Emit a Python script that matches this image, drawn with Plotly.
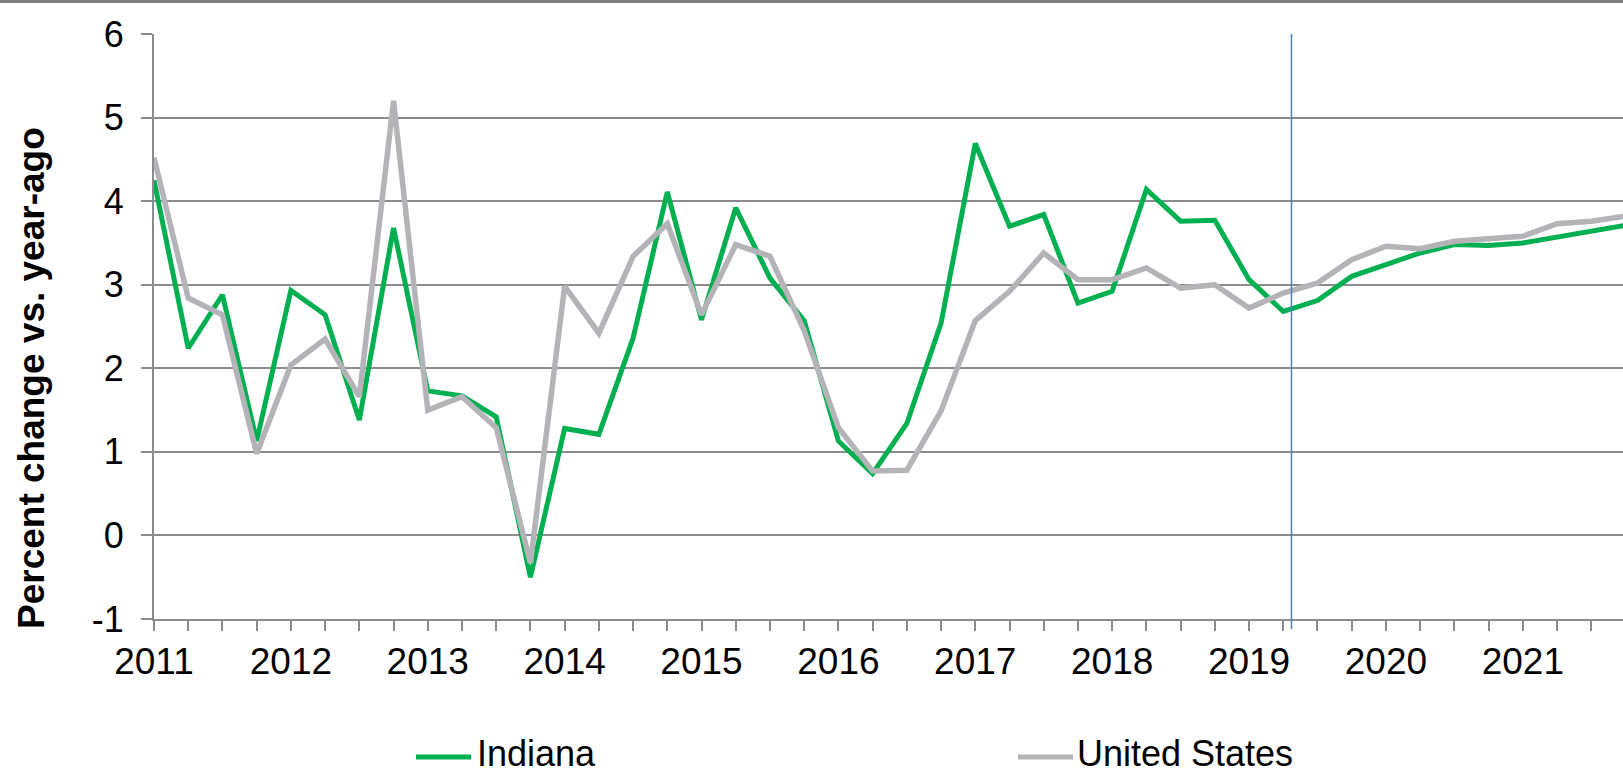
import plotly.graph_objects as go

years = ["2011", "2012", "2013", "2014", "2015", "2016", "2017", "2018", "2019", "2020", "2021"]
quarters = list(range(44))  # 2011Q1 .. 2021Q4
y_ticks = [-1, 0, 1, 2, 3, 4, 5, 6]
y_tick_text = ["-1", "0", "1", "2", "3", "4", "5", "6"]

indiana = [4.25, 2.24, 2.88, 1.13, 2.93, 2.64, 1.38, 3.68, 1.73, 1.67, 1.42, -0.5,
           1.28, 1.21, 2.36, 4.11, 2.58, 3.92, 3.08, 2.57, 1.13, 0.74, 1.34, 2.54,
           4.69, 3.70, 3.84, 2.78, 2.92, 4.14, 3.76, 3.77, 3.06, 2.68, 2.81, 3.10,
           3.24, 3.38, 3.48, 3.47, 3.50, 3.57, 3.64, 3.71]
united_states = [4.52, 2.84, 2.64, 0.98, 2.04, 2.35, 1.66, 5.20, 1.50, 1.66, 1.29, -0.33,
                 2.98, 2.42, 3.34, 3.73, 2.64, 3.48, 3.34, 2.45, 1.29, 0.77, 0.78, 1.49,
                 2.57, 2.92, 3.38, 3.06, 3.06, 3.20, 2.96, 3.00, 2.72, 2.90, 3.02, 3.30,
                 3.46, 3.43, 3.52, 3.55, 3.58, 3.73, 3.76, 3.82]
forecast_start = 33.24
series_names = ["Indiana", "United States"]
y_title = "Percent change vs. year-ago"

GREEN = "#00B050"
GRAY_LINE = "#B4B4B8"
GRID = "#8C8C8C"
FONT = "Arial, Liberation Sans, sans-serif"

W, H = 1623, 772
L, R, T, B = 154, 0, 34, 153
pw, ph = W - L - R, H - T - B

def px_x(p):
    return (p - L) / pw

def px_y(p):
    return (H - B - p) / ph

fig = go.Figure()
fig.add_trace(go.Scatter(x=quarters, y=indiana, mode="lines", name=series_names[0],
                         line=dict(color=GREEN, width=5), showlegend=False))
fig.add_trace(go.Scatter(x=quarters, y=united_states, mode="lines", name=series_names[1],
                         line=dict(color=GRAY_LINE, width=5.5), showlegend=False))

shapes = [
    dict(type="line", xref="x", yref="paper", x0=forecast_start, x1=forecast_start,
         y0=px_y(629), y1=1, line=dict(color="#4F81BD", width=1.5)),
    dict(type="line", xref="paper", yref="paper", x0=px_x(0), x1=1,
         y0=px_y(1.5), y1=px_y(1.5), line=dict(color="#808080", width=3)),
    dict(type="line", xref="paper", yref="paper", x0=px_x(416), x1=px_x(471),
         y0=px_y(757), y1=px_y(757), line=dict(color=GREEN, width=5)),
    dict(type="line", xref="paper", yref="paper", x0=px_x(1018), x1=px_x(1073),
         y0=px_y(757), y1=px_y(757), line=dict(color=GRAY_LINE, width=5)),
]

annotations = [
    dict(text="<b>" + y_title + "</b>", xref="paper", yref="paper", x=px_x(31), y=px_y(378),
         xanchor="center", yanchor="middle", textangle=-90, showarrow=False,
         font=dict(family=FONT, size=37, color="black")),
    dict(text=series_names[0], xref="paper", yref="paper", x=px_x(475), y=px_y(753),
         xanchor="left", yanchor="middle", showarrow=False,
         font=dict(family=FONT, size=36, color="black")),
    dict(text=series_names[1], xref="paper", yref="paper", x=px_x(1075), y=px_y(753),
         xanchor="left", yanchor="middle", showarrow=False,
         font=dict(family=FONT, size=36, color="black")),
]

fig.update_layout(
    width=W, height=H,
    margin=dict(l=L, r=R, t=T, b=B, pad=0),
    paper_bgcolor="white", plot_bgcolor="white",
    font=dict(family=FONT, size=36, color="black"),
    shapes=shapes, annotations=annotations,
    showlegend=False,
)
fig.update_xaxes(
    range=[0, (W - L) / 34.22], tickmode="array",
    tickvals=[4 * i for i in range(len(years))], ticktext=years,
    ticks="outside", ticklen=10, tickwidth=2, tickcolor=GRID,
    minor=dict(dtick=1, tick0=0, ticks="outside", ticklen=10, tickwidth=2, tickcolor=GRID, showgrid=False),
    showgrid=False, showline=True, linecolor=GRID, linewidth=2, zeroline=False,
    tickfont=dict(family=FONT, size=37, color="black"), ticklabelstandoff=-1,
)
fig.update_yaxes(
    range=[-1, 6], tickmode="array", tickvals=y_ticks, ticktext=y_tick_text,
    ticks="outside", ticklen=11, tickwidth=2, tickcolor=GRID,
    showgrid=True, gridcolor=GRID, gridwidth=2,
    showline=True, linecolor=GRID, linewidth=2, zeroline=False,
    tickfont=dict(family=FONT, size=36, color="black"), ticklabelstandoff=10,
)

fig.write_html("out.html", config={"displayModeBar": False},
               post_script="document.body.style.margin='0';")
